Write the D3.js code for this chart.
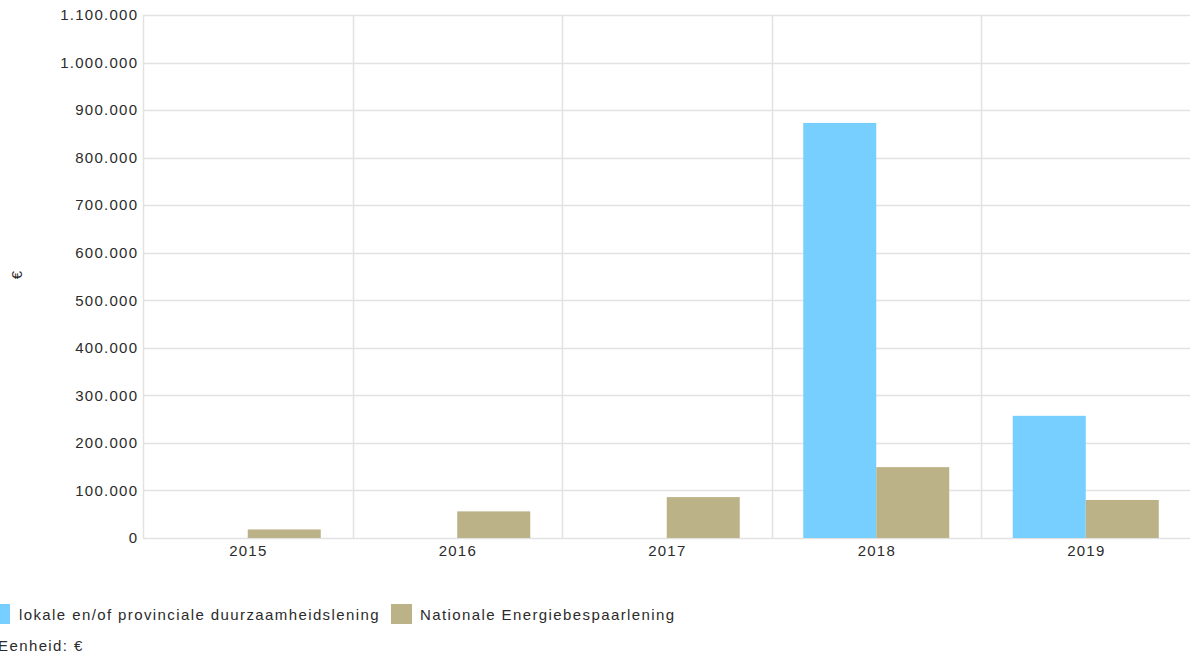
<!DOCTYPE html>
<html><head><meta charset="utf-8">
<script src="https://cdn.jsdelivr.net/npm/d3@7"></script>
<style>
html,body{margin:0;padding:0;background:#fff;overflow:hidden;}
text{font-family:"Liberation Sans",Arial,sans-serif;fill:#2b2b2b;}
</style></head>
<body>
<svg id="c" width="1190" height="657"></svg>
<script>
const categories = ["2015","2016","2017","2018","2019"];
const seriesNames = ["lokale en/of provinciale duurzaamheidslening","Nationale Energiebespaarlening"];
const lokaleValues = [0, 0, 0, 873000, 257000];
const nationaleValues = [18000, 56000, 86000, 149000, 80000];
const yTicks = [0,100000,200000,300000,400000,500000,600000,700000,800000,900000,1000000,1100000];
const colors = ["#77CFFF","#BBB287"];
const unitLabel = "Eenheid: €";
const yTitle = "€";

const svg = d3.select("#c");
const L = 143, R = 1190.5, T = 15, B = 538;
const x = d3.scaleBand().domain(categories).range([L, R]).paddingInner(0).paddingOuter(0);
const x1 = d3.scaleBand().domain([0,1]).range([0, x.bandwidth()]).paddingOuter(0.435).paddingInner(0);
const y = d3.scaleLinear().domain([0, 1100000]).range([B, T]);
const fmt = v => d3.format(",")(v).replace(/,/g, ".");
const FS = 15, LS = 1.25, LSL = 1.4;

// horizontal gridlines
svg.append("g").selectAll("line").data(yTicks).join("line")
  .attr("x1", L).attr("x2", R).attr("y1", d => Math.round(y(d))+0.5).attr("y2", d => Math.round(y(d))+0.5)
  .attr("stroke", "#e2e2e2").attr("stroke-width", 1.5);
// vertical gridlines at band edges
svg.append("g").selectAll("line").data(categories).join("line")
  .attr("x1", d => Math.round(x(d))+0.5).attr("x2", d => Math.round(x(d))+0.5)
  .attr("y1", T).attr("y2", B)
  .attr("stroke", "#e2e2e2").attr("stroke-width", 1.5);

// bars
const series = [lokaleValues, nationaleValues];
series.forEach((vals, si) => {
  svg.append("g").selectAll("rect").data(categories.map((c,i)=>({c, v: vals[i]})).filter(d=>d.v>0)).join("rect")
    .attr("x", d => x(d.c) + x1(si))
    .attr("width", x1.bandwidth())
    .attr("y", d => y(d.v))
    .attr("height", d => B - y(d.v))
    .attr("fill", colors[si]);
});

// y tick labels
svg.append("g").selectAll("text").data(yTicks).join("text")
  .attr("x", 137 + LS).attr("y", d => y(d)).attr("dy", "0.35em")
  .attr("text-anchor", "end").attr("font-size", FS).attr("letter-spacing", LS)
  .text(fmt);

// x labels
svg.append("g").selectAll("text").data(categories).join("text")
  .attr("x", d => x(d) + x.bandwidth()/2 + LS/2).attr("y", 556)
  .attr("text-anchor", "middle").attr("font-size", FS).attr("letter-spacing", LS)
  .text(d => d);

// y title
svg.append("text").attr("transform", "translate(22,275) rotate(-90)")
  .attr("text-anchor", "middle").attr("font-size", FS).text(yTitle);

// legend
const leg = [{x:-11, tx:19},{x:391, tx:420}];
seriesNames.forEach((n, i) => {
  svg.append("rect").attr("x", leg[i].x).attr("y", 604).attr("width", 21).attr("height", 20).attr("fill", colors[i]);
  svg.append("text").attr("x", leg[i].tx).attr("y", 620).attr("font-size", FS).attr("letter-spacing", LSL).text(n);
});
svg.append("text").attr("x", -2).attr("y", 651).attr("font-size", FS).attr("letter-spacing", LSL).text(unitLabel);
</script>
</body></html>
